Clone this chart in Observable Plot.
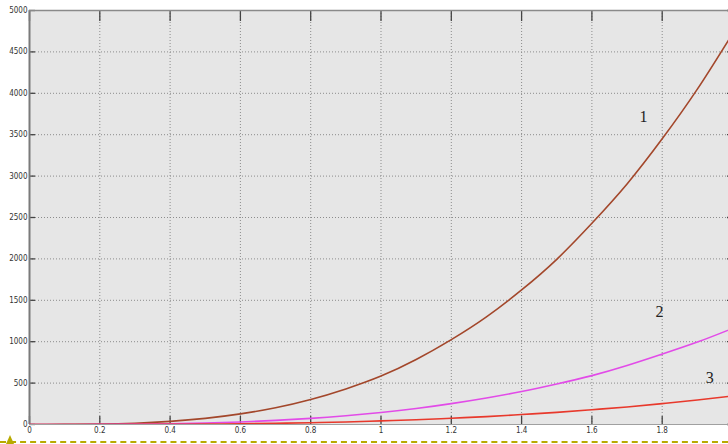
<!DOCTYPE html>
<html>
<head>
<meta charset="utf-8">
<script src="https://cdn.jsdelivr.net/npm/d3@7"></script>
<script src="https://cdn.jsdelivr.net/npm/@observablehq/plot@0.6"></script>
<style>
  html, body { margin: 0; padding: 0; background: #fff; }
  #wrap { position: relative; width: 728px; height: 444px; overflow: hidden; }
  #dash { position: absolute; left: 0; top: 441px; width: 728px; border-top: 2px dashed #b8aa00; }
  #tri { position: absolute; left: 6px; top: 435px; width: 0; height: 0;
         border-left: 4px solid transparent; border-right: 4px solid transparent; border-bottom: 9px solid #b8aa00; }
</style>
</head>
<body>
<div id="wrap"></div>
<script>
// data
const xs = [0, 0.1, 0.2, 0.3, 0.4, 0.5, 0.6, 0.7, 0.8, 0.9, 1.0, 1.1, 1.2, 1.3, 1.4, 1.5, 1.6, 1.7, 1.8, 1.9, 2.0];
const curve1 = [0, 1, 5, 16, 38, 74, 128, 202, 302, 430, 585, 785, 1025, 1300, 1625, 1995, 2430, 2905, 3450, 4050, 4720];
const curve2 = [0, 0.2, 1.2, 4, 9, 18, 31, 50, 74, 106, 145, 193, 252, 320, 398, 489, 590, 712, 850, 995, 1160];
const curve3 = [0, 0, 0.3, 1.2, 2.8, 5.4, 9.3, 14.7, 22, 31, 44, 57, 76, 95, 120, 146, 178, 212, 252, 295, 345];
const seriesNames = ["1", "2", "3"];
const seriesColors = ["#a3472b", "#e24be8", "#e8392c"];
const labelX = [1.747, 1.792, 1.935];
const labelY = [3720, 1365, 568];
const xTicks = [0, 0.2, 0.4, 0.6, 0.8, 1, 1.2, 1.4, 1.6, 1.8];
const yTicks = [0, 500, 1000, 1500, 2000, 2500, 3000, 3500, 4000, 4500, 5000];
const xGrid = [0.2, 0.4, 0.6, 0.8, 1, 1.2, 1.4, 1.6, 1.8];
const yGrid = [500, 1000, 1500, 2000, 2500, 3000, 3500, 4000, 4500];

const rows = [];
[curve1, curve2, curve3].forEach((c, i) => c.forEach((v, j) => rows.push({x: xs[j], y: v, s: seriesNames[i]})));
const labels = seriesNames.map((n, i) => ({x: labelX[i], y: labelY[i], t: n}));

const tickFont = "'Liberation Sans Narrow', 'DejaVu Sans Condensed', sans-serif";

const chart = Plot.plot({
  width: 728,
  height: 444,
  marginLeft: 29,
  marginRight: -4,
  marginTop: 10,
  marginBottom: 20,
  style: {background: "#fff", overflow: "hidden", fontFamily: tickFont},
  x: {domain: [0, 2], label: null},
  y: {domain: [0, 5000], label: null},
  color: {domain: seriesNames, range: seriesColors},
  marks: [
    Plot.frame({fill: "#e6e6e6", stroke: null}),
    Plot.gridX(xGrid, {stroke: "#8c8c8c", strokeOpacity: 1, strokeDasharray: "1,2"}),
    Plot.gridY(yGrid, {stroke: "#8c8c8c", strokeOpacity: 1, strokeDasharray: "1,2"}),
    // inward tick marks
    Plot.axisY(yTicks, {anchor: "left", tickSize: 6, dx: 6, text: null, label: null, stroke: "#444", strokeWidth: 1.3}),
    Plot.axisY(yTicks, {anchor: "right", tickSize: 6, dx: -6, text: null, label: null, stroke: "#444", strokeWidth: 1.3}),
    Plot.axisX(xTicks, {anchor: "top", tickSize: 10, dy: 10, text: null, label: null, stroke: "#444", strokeWidth: 1.3}),
    Plot.axisX(xTicks, {anchor: "bottom", tickSize: 8, dy: -8, text: null, label: null, stroke: "#444", strokeWidth: 1.3}),
    // labels
    Plot.axisY(yTicks, {anchor: "left", tickSize: 0, tickPadding: 2, fontSize: 8, fill: "#333", label: null, tickFormat: d => String(d)}),
    Plot.axisX(xTicks, {anchor: "bottom", tickSize: 0, tickPadding: 3, fontSize: 8, fill: "#333", label: null, tickFormat: d => String(d)}),
    // frame lines
    Plot.ruleX([0], {stroke: "#7a7a7a", strokeWidth: 2}),
    Plot.ruleY([5000], {stroke: "#8a8a8a", strokeWidth: 1.5}),
    Plot.ruleY([0], {stroke: "#a0a0a0", strokeWidth: 1}),
    Plot.line(rows, {x: "x", y: "y", z: "s", stroke: "s", strokeWidth: 1.6, curve: "natural", clip: true}),
    Plot.text(labels, {x: "x", y: "y", text: "t", fontFamily: "'Liberation Serif', serif", fontSize: 16, fill: "#222"})
  ]
});
const wrap = document.getElementById("wrap");
wrap.appendChild(chart);
const dash = document.createElement("div"); dash.id = "dash"; wrap.appendChild(dash);
const tri = document.createElement("div"); tri.id = "tri"; wrap.appendChild(tri);
</script>
</body>
</html>
